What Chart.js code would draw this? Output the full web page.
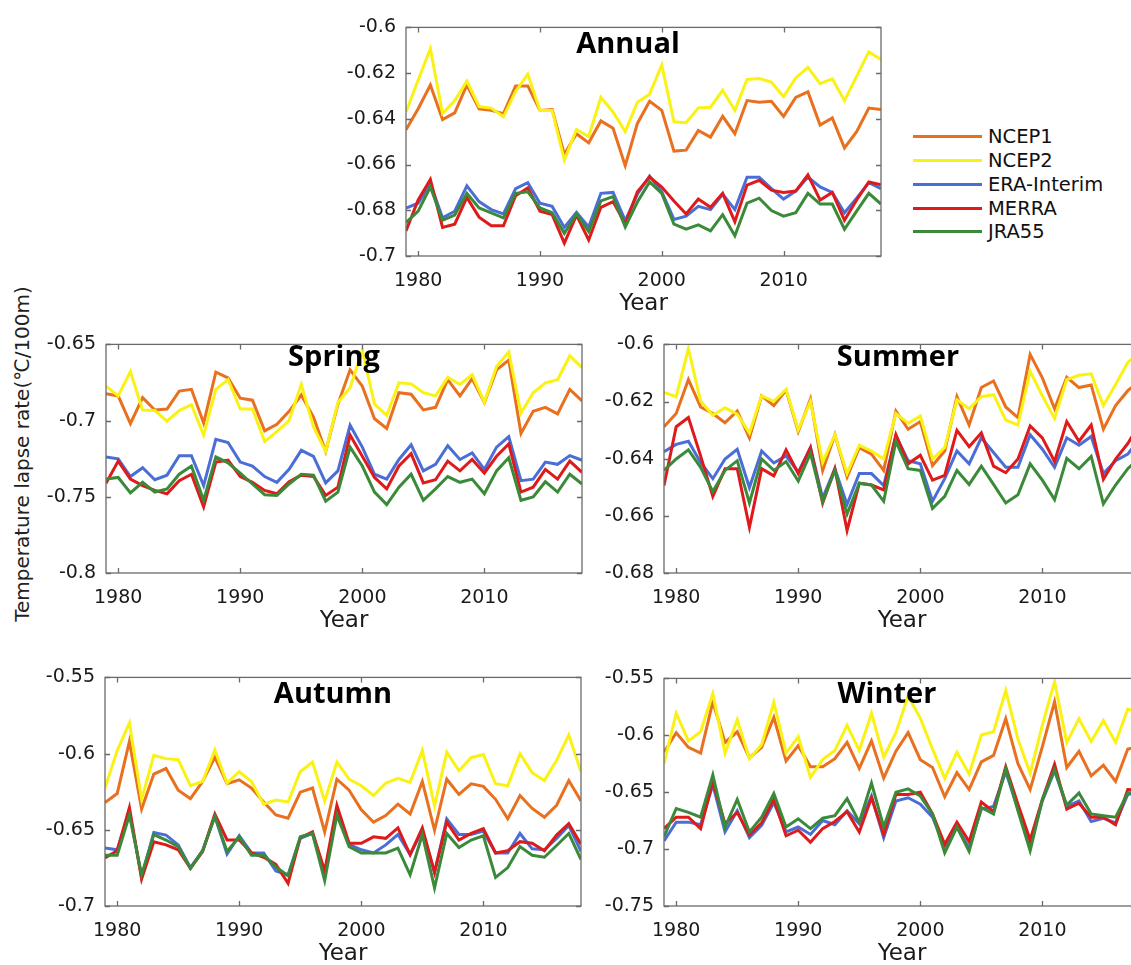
<!DOCTYPE html>
<html>
<head>
<meta charset="utf-8">
<script src="https://cdn.jsdelivr.net/npm/chart.js@4.4.1/dist/chart.umd.min.js"></script>
<style>
  html, body { margin: 0; padding: 0; background: #fff; }
  body { position: relative; width: 1131px; height: 965px; overflow: hidden; font-family: "DejaVu Sans", sans-serif; }
  canvas { position: absolute; }
  .ptitle { position: absolute; font: bold 29px "Open Sans", sans-serif; line-height: 29px; transform: translateX(-50%); white-space: nowrap; color: #000; }
  #legend { position: absolute; left: 913px; top: 125px; }
  .item { height: 23.75px; display: flex; align-items: center; font-size: 19.5px; color: #111; white-space: nowrap; }
  .item .sw { display: inline-block; width: 69px; height: 3px; margin-right: 6px; }
  #ylab { position: absolute; left: 22px; top: 454px; transform: translate(-50%, -50%) rotate(-90deg); font-size: 20px; color: #222; white-space: nowrap; }
</style>
</head>
<body>
<div id="ylab">Temperature lapse rate(℃/100m)</div>
<div id="legend"></div>

<script>
  // years and series
  const years = [1979, 1980, 1981, 1982, 1983, 1984, 1985, 1986, 1987, 1988, 1989, 1990, 1991, 1992, 1993, 1994, 1995, 1996, 1997, 1998,
                 1999, 2000, 2001, 2002, 2003, 2004, 2005, 2006, 2007, 2008, 2009, 2010, 2011, 2012, 2013, 2014, 2015, 2016, 2017, 2018];
  const seriesNames = ['NCEP1', 'NCEP2', 'ERA-Interim', 'MERRA', 'JRA55'];
  const seriesColors = ['#E8701E', '#FAF214', '#4A6ED6', '#DE1A1A', '#3A8A3A'];
  const xTicks = [1980, 1990, 2000, 2010];

  // Annual
  const annualNCEP1 = [-0.6448,-0.6356,-0.6252,-0.6403,-0.6374,-0.6252,-0.6356,-0.6363,-0.6377,-0.6256,-0.6256,-0.6363,-0.6359,-0.6555,-0.6465,-0.6505,-0.6409,-0.6441,-0.6605,-0.642,
                       -0.6323,-0.6363,-0.6541,-0.6537,-0.6451,-0.648,-0.6389,-0.6465,-0.632,-0.6327,-0.6323,-0.6389,-0.6306,-0.6282,-0.6427,-0.6396,-0.6527,-0.6456,-0.6353,-0.6359];
  const annualNCEP2 = [-0.637,-0.623,-0.6093,-0.6377,-0.632,-0.6235,-0.6346,-0.6353,-0.6391,-0.628,-0.6204,-0.6363,-0.6363,-0.658,-0.6446,-0.6477,-0.6306,-0.637,-0.6456,-0.6327,
                       -0.6292,-0.6164,-0.6413,-0.6417,-0.6352,-0.6349,-0.6275,-0.6363,-0.6228,-0.6224,-0.6239,-0.6303,-0.6221,-0.6175,-0.6246,-0.6225,-0.632,-0.6214,-0.6107,-0.614];
  const annualERA = [-0.679,-0.6769,-0.6683,-0.6833,-0.6804,-0.6693,-0.6762,-0.6797,-0.6816,-0.6705,-0.6679,-0.6769,-0.6783,-0.6875,-0.6809,-0.6873,-0.6726,-0.6722,-0.6845,-0.673,
                     -0.665,-0.6719,-0.684,-0.6826,-0.6783,-0.6797,-0.673,-0.6797,-0.6655,-0.6655,-0.6705,-0.6751,-0.6716,-0.6655,-0.6698,-0.6722,-0.6811,-0.6747,-0.6679,-0.6705];
  const annualMERRA = [-0.689,-0.6755,-0.6665,-0.6875,-0.6861,-0.6744,-0.683,-0.6868,-0.6868,-0.6736,-0.6702,-0.6804,-0.6819,-0.6944,-0.6821,-0.693,-0.6787,-0.6762,-0.686,-0.6719,
                       -0.6655,-0.6698,-0.6759,-0.6816,-0.6751,-0.6787,-0.6726,-0.685,-0.669,-0.6669,-0.6712,-0.6722,-0.6716,-0.6645,-0.6755,-0.6722,-0.6844,-0.6755,-0.6676,-0.6688];
  const annualJRA55 = [-0.6854,-0.6804,-0.6698,-0.6844,-0.6821,-0.6726,-0.679,-0.6811,-0.6833,-0.6726,-0.6719,-0.679,-0.6811,-0.6901,-0.6816,-0.6893,-0.6759,-0.674,-0.6873,-0.6764,
                       -0.6676,-0.6726,-0.6861,-0.6883,-0.6864,-0.689,-0.6819,-0.6911,-0.6769,-0.6747,-0.6801,-0.6826,-0.6811,-0.6726,-0.6773,-0.6773,-0.6883,-0.6804,-0.6726,-0.6773];

  // Spring
  const springNCEP1 = [-0.6823,-0.6838,-0.702,-0.6849,-0.693,-0.6924,-0.6806,-0.6795,-0.7016,-0.6682,-0.672,-0.6853,-0.6866,-0.7067,-0.7024,-0.6939,-0.6832,
                       -0.6977,-0.7202,-0.6892,-0.6667,-0.6774,-0.6988,-0.7052,-0.6817,-0.6827,-0.693,-0.6913,-0.6731,-0.6838,-0.6725,-0.6881,-0.6667,-0.6603,-0.7084,-0.6939,-0.6913,-0.6956,-0.6795,-0.687];
  const springNCEP2 = [-0.6774,-0.6838,-0.6678,-0.693,-0.6934,-0.7004,-0.6934,-0.6896,-0.7095,-0.6795,-0.6731,-0.6924,-0.6924,-0.7138,-0.7073,-0.7,-0.6763,
                       -0.7041,-0.7202,-0.6881,-0.6785,-0.6539,-0.6892,-0.6966,-0.6752,-0.6759,-0.6817,-0.6838,-0.6716,-0.6763,-0.6699,-0.6881,-0.6645,-0.6549,-0.6951,-0.6817,-0.6752,-0.6731,-0.6575,-0.6652];
  const springERA = [-0.7238,-0.7251,-0.7367,-0.7309,-0.7388,-0.7358,-0.723,-0.723,-0.7426,-0.7123,-0.7144,-0.7272,-0.7298,-0.7367,-0.7405,-0.732,-0.7195,
                     -0.7235,-0.7409,-0.733,-0.7031,-0.7174,-0.7352,-0.7384,-0.7255,-0.7159,-0.733,-0.7287,-0.7165,-0.7255,-0.7212,-0.732,-0.7174,-0.7105,-0.7394,-0.7384,-0.7272,-0.7287,-0.723,-0.726];
  const springMERRA = [-0.7411,-0.7266,-0.7384,-0.7426,-0.7458,-0.748,-0.7394,-0.7352,-0.7566,-0.7272,-0.726,-0.7367,-0.7405,-0.7458,-0.748,-0.7401,-0.7358,
                       -0.7367,-0.7491,-0.7437,-0.7095,-0.7234,-0.7373,-0.7448,-0.7298,-0.7217,-0.7409,-0.7388,-0.7266,-0.733,-0.7255,-0.7345,-0.7234,-0.7153,-0.7469,-0.7437,-0.732,-0.7384,-0.7266,-0.734];
  const springJRA55 = [-0.7384,-0.7373,-0.7474,-0.7405,-0.7469,-0.7448,-0.7352,-0.7298,-0.7523,-0.7238,-0.7277,-0.7345,-0.7416,-0.7486,-0.7491,-0.7416,-0.7352,
                       -0.7358,-0.7529,-0.7469,-0.7174,-0.7298,-0.7469,-0.7551,-0.7437,-0.7352,-0.7523,-0.7448,-0.7367,-0.7405,-0.7384,-0.748,-0.733,-0.7244,-0.7523,-0.7501,-0.7401,-0.7469,-0.7352,-0.7416];

  // Summer
  const summerNCEP1 = [-0.6288,-0.6242,-0.6123,-0.6219,-0.6242,-0.6274,-0.6233,-0.6327,-0.618,-0.6214,-0.616,-0.6305,-0.6191,-0.6441,-0.6316,-0.6464,
                       -0.6361,-0.6384,-0.6441,-0.6233,-0.6297,-0.627,-0.6424,-0.6373,-0.6183,-0.6282,-0.6151,-0.6128,-0.6219,-0.6256,-0.6035,-0.6117,-0.6225,-0.6115,-0.6151,-0.6142,-0.6297,-0.6214,-0.6162,-0.6128];
  const summerNCEP2 = [-0.6168,-0.6183,-0.6015,-0.6199,-0.6248,-0.6222,-0.6244,-0.631,-0.618,-0.6199,-0.6157,-0.6299,-0.6199,-0.6413,-0.6316,-0.6452,
                       -0.6353,-0.6373,-0.6401,-0.6242,-0.6276,-0.6251,-0.6401,-0.6361,-0.6194,-0.6225,-0.6183,-0.6176,-0.6265,-0.6282,-0.6094,-0.618,-0.6259,-0.6123,-0.6108,-0.6103,-0.6214,-0.614,-0.6063,-0.6026];
  const summerERA = [-0.6376,-0.635,-0.6339,-0.6413,-0.647,-0.6401,-0.6367,-0.6501,-0.6373,-0.6415,-0.639,-0.6447,-0.6361,-0.6538,-0.6435,-0.656,
                     -0.6452,-0.6452,-0.6494,-0.6319,-0.6407,-0.6418,-0.6549,-0.647,-0.6373,-0.6418,-0.6327,-0.6378,-0.643,-0.643,-0.6316,-0.6367,-0.643,-0.6327,-0.6353,-0.6322,-0.6452,-0.6407,-0.6384,-0.6327];
  const summerMERRA = [-0.6494,-0.6288,-0.6256,-0.639,-0.6532,-0.6435,-0.6435,-0.664,-0.6435,-0.646,-0.6369,-0.6452,-0.6361,-0.6555,-0.6435,-0.6651,
                       -0.6486,-0.6492,-0.6509,-0.6316,-0.6418,-0.6388,-0.6475,-0.6458,-0.6301,-0.6358,-0.631,-0.6426,-0.6449,-0.6401,-0.6285,-0.6327,-0.641,-0.627,-0.6339,-0.6282,-0.6472,-0.6401,-0.6347,-0.6276];
  const summerJRA55 = [-0.6441,-0.6401,-0.6369,-0.643,-0.6515,-0.6441,-0.6407,-0.6555,-0.6401,-0.6441,-0.641,-0.6478,-0.6381,-0.6549,-0.6441,-0.6594,
                       -0.6486,-0.6492,-0.6549,-0.6339,-0.6435,-0.6441,-0.6574,-0.6532,-0.6441,-0.649,-0.6426,-0.649,-0.6555,-0.6526,-0.6418,-0.6475,-0.6543,-0.6399,-0.6435,-0.6392,-0.6558,-0.6492,-0.6435,-0.6395];

  // Autumn
  const autumnNCEP1 = [-0.6322,-0.6262,-0.592,-0.6364,-0.6134,-0.6098,-0.624,-0.6296,-0.6183,-0.6023,-0.6198,-0.6172,-0.6226,-0.6317,-0.6403,-0.6424,-0.6253,
                       -0.6226,-0.6514,-0.6168,-0.624,-0.6369,-0.645,-0.6407,-0.6332,-0.6396,-0.6183,-0.6503,-0.6168,-0.6268,-0.6198,-0.6215,-0.63,-0.6428,-0.6275,-0.636,-0.6418,-0.6339,-0.6177,-0.6311];
  const autumnNCEP2 = [-0.6226,-0.598,-0.5799,-0.63,-0.6012,-0.6033,-0.604,-0.6211,-0.6183,-0.5976,-0.6194,-0.6119,-0.6183,-0.6332,-0.6305,-0.6317,-0.6119,
                       -0.6055,-0.6311,-0.6055,-0.6168,-0.6211,-0.6275,-0.6194,-0.6162,-0.6189,-0.598,-0.6343,-0.5991,-0.6112,-0.6027,-0.6006,-0.6198,-0.6211,-0.6002,-0.6125,-0.6177,-0.6044,-0.5878,-0.6119];
  const autumnERA = [-0.662,-0.6631,-0.6381,-0.6812,-0.6518,-0.6535,-0.6599,-0.6748,-0.6637,-0.6411,-0.6659,-0.6539,-0.6652,-0.6652,-0.677,-0.6795,-0.6556,
                     -0.6524,-0.6802,-0.6386,-0.6595,-0.6631,-0.6652,-0.6599,-0.6531,-0.6663,-0.6503,-0.678,-0.6428,-0.6531,-0.6531,-0.6509,-0.6652,-0.6652,-0.6524,-0.6625,-0.6631,-0.6556,-0.6471,-0.6642];
  const autumnMERRA = [-0.6684,-0.6637,-0.6354,-0.6823,-0.6578,-0.6599,-0.6631,-0.6753,-0.6642,-0.6396,-0.6567,-0.6567,-0.6652,-0.668,-0.6727,-0.6851,-0.6552,
                       -0.6514,-0.677,-0.6339,-0.6588,-0.6588,-0.6546,-0.6556,-0.6488,-0.6663,-0.6488,-0.678,-0.645,-0.6567,-0.6524,-0.6492,-0.6652,-0.6637,-0.6578,-0.6588,-0.6637,-0.6535,-0.646,-0.6595];
  const autumnJRA55 = [-0.6667,-0.6667,-0.6403,-0.6795,-0.6531,-0.6567,-0.661,-0.6753,-0.6637,-0.6411,-0.6642,-0.6546,-0.6667,-0.6667,-0.6744,-0.6802,-0.6546,
                       -0.6524,-0.6834,-0.6403,-0.661,-0.6652,-0.6652,-0.6652,-0.662,-0.6795,-0.6531,-0.6881,-0.6524,-0.6616,-0.6567,-0.6539,-0.6812,-0.6748,-0.661,-0.6667,-0.668,-0.6603,-0.6524,-0.6695];

  // Winter
  const winterNCEP1 = [-0.6149,-0.5977,-0.6106,-0.6157,-0.5706,-0.6063,-0.5969,-0.6197,-0.6106,-0.5843,-0.6226,-0.6091,-0.6277,-0.6277,-0.6206,-0.6063,
                       -0.6291,-0.6049,-0.6377,-0.614,-0.5977,-0.6214,-0.6283,-0.654,-0.6329,-0.6477,-0.6234,-0.6177,-0.5854,-0.6249,-0.6477,-0.61,-0.5706,-0.6283,-0.614,-0.6357,-0.6263,-0.6406,-0.612,-0.61];
  const winterNCEP2 = [-0.6249,-0.5806,-0.6049,-0.5969,-0.5634,-0.6157,-0.5863,-0.6206,-0.6083,-0.5711,-0.6157,-0.6014,-0.6369,-0.6214,-0.6134,-0.5911,
                       -0.6134,-0.5806,-0.6191,-0.5977,-0.5654,-0.5849,-0.612,-0.6377,-0.6149,-0.634,-0.5997,-0.5969,-0.5606,-0.6034,-0.6334,-0.5911,-0.5529,-0.6063,-0.5854,-0.6054,-0.5871,-0.6063,-0.5769,-0.58];
  const winterERA = [-0.6929,-0.6763,-0.6763,-0.6786,-0.6434,-0.6849,-0.6663,-0.69,-0.6791,-0.6591,-0.6849,-0.6806,-0.6871,-0.6749,-0.6786,-0.6663,
                     -0.6777,-0.6534,-0.69,-0.6577,-0.6549,-0.6606,-0.672,-0.6977,-0.6806,-0.6991,-0.6649,-0.6626,-0.632,-0.6649,-0.6963,-0.6577,-0.6311,-0.6626,-0.6577,-0.6757,-0.6729,-0.6769,-0.652,-0.65];
  const winterMERRA = [-0.682,-0.672,-0.672,-0.682,-0.6406,-0.6777,-0.6677,-0.6877,-0.6769,-0.6563,-0.6883,-0.6834,-0.694,-0.682,-0.6757,-0.6671,
                       -0.6849,-0.6549,-0.6871,-0.652,-0.652,-0.65,-0.6691,-0.6957,-0.6763,-0.6934,-0.6586,-0.6671,-0.6277,-0.6606,-0.692,-0.6563,-0.6254,-0.6649,-0.6597,-0.672,-0.672,-0.6786,-0.6477,-0.648];
  const winterJRA55 = [-0.6891,-0.6643,-0.6677,-0.672,-0.6349,-0.6806,-0.6563,-0.6849,-0.672,-0.6511,-0.6806,-0.6734,-0.682,-0.6729,-0.6706,-0.6557,
                       -0.6763,-0.642,-0.6806,-0.65,-0.6471,-0.6534,-0.6691,-0.7034,-0.6806,-0.702,-0.6634,-0.6691,-0.6291,-0.6663,-0.7014,-0.6563,-0.63,-0.6614,-0.6506,-0.6691,-0.6706,-0.672,-0.6506,-0.65];

  // y tick labels for each panel
  const annualYTicks = [-0.7, -0.68, -0.66, -0.64, -0.62, -0.6];
  const springYTicks = [-0.8, -0.75, -0.7, -0.65];
  const summerYTicks = [-0.68, -0.66, -0.64, -0.62, -0.6];
  const autumnYTicks = [-0.7, -0.65, -0.6, -0.55];
  const winterYTicks = [-0.75, -0.7, -0.65, -0.6, -0.55];

  // panel layout: plot box [left, top, width, height] in page pixels, title position
  const panels = [
    { title: 'Annual', box: [406, 22, 475, 234], yTicks: annualYTicks, series: [annualNCEP1, annualNCEP2, annualERA, annualMERRA, annualJRA55], tx: 628, ty: 27 },
    { title: 'Spring', box: [106, 339, 476, 234], yTicks: springYTicks, series: [springNCEP1, springNCEP2, springERA, springMERRA, springJRA55], tx: 334, ty: 340 },
    { title: 'Summer', box: [664, 339, 476, 234], yTicks: summerYTicks, series: [summerNCEP1, summerNCEP2, summerERA, summerMERRA, summerJRA55], tx: 898, ty: 340 },
    { title: 'Autumn', box: [105, 672, 476, 234], yTicks: autumnYTicks, series: [autumnNCEP1, autumnNCEP2, autumnERA, autumnMERRA, autumnJRA55], tx: 333, ty: 677 },
    { title: 'Winter', box: [664, 673, 476, 233], yTicks: winterYTicks, series: [winterNCEP1, winterNCEP2, winterERA, winterMERRA, winterJRA55], tx: 887, ty: 677 }
  ];

  const PAD_L = 70, PAD_T = 16, PAD_R = 16, PAD_B = 70;

  // box around the axes with inward tick marks, MATLAB style
  const framePlugin = {
    id: 'frame',
    afterDatasetsDraw(chart) {
      const { ctx, chartArea: a, scales: { x, y } } = chart;
      ctx.save();
      ctx.strokeStyle = '#6a6a6a';
      ctx.lineWidth = 1.3;
      ctx.strokeRect(a.left, a.top, a.right - a.left, a.bottom - a.top);
      ctx.beginPath();
      x.ticks.forEach(t => {
        const px = Math.round(x.getPixelForValue(t.value)) + 0.5;
        ctx.moveTo(px, a.bottom); ctx.lineTo(px, a.bottom - 5);
        ctx.moveTo(px, a.top); ctx.lineTo(px, a.top + 5);
      });
      y.ticks.forEach(t => {
        const py = Math.round(y.getPixelForValue(t.value)) + 0.5;
        ctx.moveTo(a.left, py); ctx.lineTo(a.left + 5, py);
        ctx.moveTo(a.right, py); ctx.lineTo(a.right - 5, py);
      });
      ctx.stroke();
      ctx.restore();
    }
  };

  panels.forEach(p => {
    const [left, top, w, h] = p.box;
    const canvas = document.createElement('canvas');
    canvas.width = w + PAD_L + PAD_R;
    canvas.height = h + PAD_T + PAD_B;
    canvas.style.left = (left - PAD_L) + 'px';
    canvas.style.top = (top - PAD_T) + 'px';
    document.body.appendChild(canvas);

    const title = document.createElement('div');
    title.className = 'ptitle';
    title.textContent = p.title;
    title.style.left = p.tx + 'px';
    title.style.top = p.ty + 'px';
    document.body.appendChild(title);

    new Chart(canvas.getContext('2d'), {
      type: 'line',
      data: {
        labels: years,
        datasets: p.series.map((vals, i) => ({
          label: seriesNames[i],
          data: years.map((yr, j) => ({ x: yr, y: vals[j] })),
          borderColor: seriesColors[i],
          backgroundColor: seriesColors[i],
          borderWidth: 3,
          pointRadius: 0,
          tension: 0,
          fill: false,
          order: seriesNames.length - i
        }))
      },
      options: {
        responsive: false,
        animation: false,
        devicePixelRatio: 1,
        layout: { padding: { top: PAD_T, right: PAD_R, left: 0, bottom: 0 } },
        plugins: { legend: { display: false }, tooltip: { enabled: false } },
        scales: {
          x: {
            type: 'linear',
            min: 1979,
            max: 2018,
            afterBuildTicks: s => { s.ticks = xTicks.map(v => ({ value: v })); },
            afterFit: s => { s.height = PAD_B; },
            grid: { display: false, drawTicks: false },
            border: { display: false },
            ticks: { color: '#1a1a1a', font: { family: 'DejaVu Sans', size: 19 }, padding: 14, maxRotation: 0, callback: v => String(v) },
            title: { display: true, text: 'Year', color: '#1a1a1a', font: { family: 'DejaVu Sans', size: 23 }, padding: { top: 0, bottom: 8 } }
          },
          y: {
            min: p.yTicks[0],
            max: p.yTicks[p.yTicks.length - 1],
            afterBuildTicks: s => { s.ticks = p.yTicks.map(v => ({ value: v })); },
            afterFit: s => { s.width = PAD_L; },
            grid: { display: false, drawTicks: false },
            border: { display: false },
            ticks: { color: '#1a1a1a', font: { family: 'DejaVu Sans', size: 19 }, padding: 10, callback: v => String(+Number(v).toFixed(3)) }
          }
        }
      },
      plugins: [framePlugin]
    });
  });

  // legend next to the Annual panel
  const legend = document.getElementById('legend');
  seriesNames.forEach((name, i) => {
    const row = document.createElement('div');
    row.className = 'item';
    row.innerHTML = '<span class="sw" style="background:' + seriesColors[i] + '"></span>' + name;
    legend.appendChild(row);
  });
</script>
</body>
</html>
